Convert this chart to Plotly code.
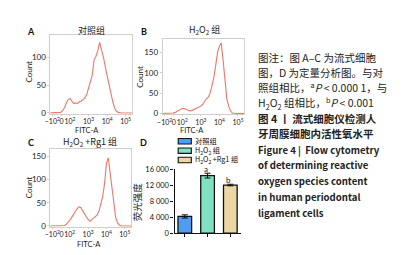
import plotly.graph_objects as go

W, H = 401, 255

# ---------------- data ----------------
# FITC-A bin positions (display units of the biexponential axis: 10^2 -> 2, 10^3 -> 3 ...)
fitc_bins = [0.9, 1.0, 1.1, 1.2, 1.3, 1.4, 1.5, 1.6, 1.7, 1.8, 1.9,
             2.0, 2.1, 2.2, 2.3, 2.4, 2.5, 2.6, 2.7, 2.8, 2.9,
             3.0, 3.1, 3.2, 3.3, 3.4, 3.5, 3.6, 3.7, 3.8, 3.9,
             4.0, 4.1, 4.2, 4.3, 4.4, 4.5, 4.6, 4.7, 4.8, 4.9,
             5.0, 5.1, 5.2, 5.3, 5.4]

count_control = [0, 0, 0, 0, 0, 0, 1, 4, 9, 17, 24,
                 26, 21, 17, 18, 17, 20, 21, 24, 27, 33,
                 44, 58, 68, 96, 102, 112, 127, 113, 101, 83,
                 66, 51, 35, 21, 9, 3, 1, 0, 0, 0,
                 0, 0, 0, 0, 0]

count_h2o2 = [0, 0, 0, 0, 0, 0, 1, 2, 4, 7, 10,
              12, 12, 10, 7, 6, 7, 9, 11, 12, 15,
              18, 22, 30, 36, 40, 50, 68, 88, 118, 150,
              165, 173, 130, 80, 36, 18, 6, 1, 0, 0,
              0, 0, 0, 0, 0]

count_rg1 = [0, 0, 0, 0, 0, 0, 0, 0, 1, 3, 7,
             12, 18, 25, 31, 37, 41, 40, 33, 26, 19,
             14, 10, 13, 16, 20, 24, 33, 46, 64, 92,
             135, 147, 115, 70, 40, 19, 7, 2, 0, 0,
             0, 0, 0, 0, 0]

fitc_tickvals = [1.05, 1.55, 2, 3, 4, 5]
fitc_ticktext = ["−10<sup>2</sup>", "0", "10<sup>2</sup>", "10<sup>3</sup>",
                 "10<sup>4</sup>", "10<sup>5</sup>"]

groups = ["对照组", "H<sub>2</sub>O<sub>2</sub> 组", "H<sub>2</sub>O<sub>2</sub> +Rg1 组"]
intensity = [4200, 14400, 12050]
intensity_err = [400, 600, 200]
sig_labels = ["", "a", "b"]
bar_colors = ["#4f9df2", "#80e2c3", "#ead7a5"]
intensity_ticks = [0, 4000, 8000, 12000, 16000]
intensity_ticktext = ["0", "4 000", "8 000", "12 000", "16 000"]

caption_lines = [
    "图注：图 A–C 为流式细胞",
    "图，D 为定量分析图。与对",
    "照组相比，<sup>a</sup><i>P</i> &lt; 0.000 1，与",
    "H<sub>2</sub>O<sub>2</sub> 组相比，<sup>b</sup><i>P</i> &lt; 0.001",
    "<b>图 4 丨 流式细胞仪检测人</b>",
    "<b>牙周膜细胞内活性氧水平</b>",
    "<b>Figure 4 |  Flow cytometry</b>",
    "<b>of determining reactive</b>",
    "<b>oxygen species content</b>",
    "<b>in human periodontal</b>",
    "<b>ligament cells</b>",
]
caption_y = [47, 62.5, 78, 94, 110, 126, 143, 159, 175, 191.5, 208]
caption_size = [10.5, 10.5, 10.5, 10.5, 10.5, 10.5, 9.6, 9.6, 9.6, 9.6, 9.6]

FONT = "Lato, 'Noto Sans CJK SC', sans-serif"
CJK = "'Noto Sans CJK SC', Lato, sans-serif"
LINE = "#f07565"
FRAME = "#cfcfcf"


def px(x):
    return x / W


def py(y):
    return 1 - y / H


fig = go.Figure()

hist_panels = [
    ("x", "y", count_control),
    ("x2", "y2", count_h2o2),
    ("x3", "y3", count_rg1),
]
for xa, ya, counts in hist_panels:
    fig.add_trace(go.Scatter(x=fitc_bins, y=counts, mode="lines", xaxis=xa, yaxis=ya,
                             line=dict(color=LINE, width=1.1), showlegend=False,
                             hoverinfo="skip"))

fig.add_trace(go.Bar(x=[0, 1, 2], y=intensity, xaxis="x4", yaxis="y4",
                     marker=dict(color=bar_colors, line=dict(color="#111", width=1.3)),
                     width=0.6, showlegend=False,
                     error_y=dict(type="data", array=intensity_err, color="#111",
                                  thickness=1, width=3),
                     hoverinfo="skip"))

hist_x = dict(range=[0.95, 5.35], tickmode="array", tickvals=fitc_tickvals,
              ticktext=fitc_ticktext, showticklabels=True,
              showgrid=False, zeroline=False, showline=True, mirror=True,
              linecolor=FRAME, linewidth=1, ticks="outside", ticklen=1, tickcolor=FRAME,
              tickangle=0, ticklabeloverflow="allow",
              tickfont=dict(size=7, color="#222"))
hist_y = dict(showgrid=False, zeroline=False, showline=True, mirror=True,
              linecolor=FRAME, linewidth=1, ticks="outside", ticklen=2, tickcolor=FRAME,
              tickfont=dict(size=8, color="#222"))

fig.update_layout(
    width=W, height=H, margin=dict(l=0, r=0, t=0, b=0),
    paper_bgcolor="white", plot_bgcolor="white",
    font=dict(family=FONT, color="#222"),
    xaxis=dict(hist_x, domain=[px(37), px(120)], anchor="y"),
    yaxis=dict(hist_y, domain=[py(105.5), py(24)], range=[-1.5, 140],
               tickvals=[0, 50, 100], anchor="x"),
    xaxis2=dict(hist_x, domain=[px(151), px(234)], anchor="y2"),
    yaxis2=dict(hist_y, domain=[py(106), py(28)], range=[-2, 183],
                tickvals=[0, 50, 100, 150], anchor="x2"),
    xaxis3=dict(hist_x, domain=[px(37), px(119)], anchor="y3"),
    yaxis3=dict(hist_y, domain=[py(222.5), py(142)], range=[-1.5, 166],
                tickvals=[0, 50, 100, 150], anchor="x3"),
    xaxis4=dict(domain=[px(163), px(230)], anchor="y4", range=[-0.45, 2.45],
                tickvals=[0, 1, 2], ticktext=["", "", ""], ticks="outside", ticklen=3,
                tickcolor="#111", showline=True, linecolor="#111", linewidth=1.2,
                showgrid=False, zeroline=False),
    yaxis4=dict(domain=[py(229.3), py(163)], anchor="x4", range=[0, 16000],
                tickvals=intensity_ticks, ticktext=intensity_ticktext,
                ticks="outside", ticklen=3, tickcolor="#111", showline=True,
                linecolor="#111", linewidth=1.2, showgrid=False, zeroline=False,
                tickfont=dict(size=7.5, color="#111")),
)

ann = []


def add_text(x, y, text, size, anchor="center", angle=0, family=FONT, color="#222"):
    ann.append(dict(x=px(x), y=py(y), xref="paper", yref="paper", text=text,
                    showarrow=False, xanchor=anchor, yanchor="middle",
                    font=dict(size=size, family=family, color=color), textangle=angle))


# panel letters
for letter, lx, ly in [("A", 17, 20), ("B", 131.5, 20.5), ("C", 17, 135), ("D", 131.5, 135)]:
    add_text(lx, ly, "<b>" + letter + "</b>", 9, color="#111")

# panel titles
add_text(78.5, 19, "对照组", 9, family=CJK)
add_text(193, 19, "H<sub>2</sub>O<sub>2</sub> 组", 9, family=CJK)
add_text(77, 135, "H<sub>2</sub>O<sub>2</sub> +Rg1 组", 9, family=CJK)

# axis titles
for cx, cy in [(15, 62), (128, 67), (15, 182)]:
    add_text(cx, cy, "Count", 8, angle=-90)
for cx, cy in [(74, 122.5), (181, 122.5), (76, 240.5)]:
    add_text(cx, cy, "FITC-A", 7.5)
add_text(125, 197, "荧光强度", 9.5, angle=-90, family=CJK)

# significance letters above bars (data-driven positions)
for i, lab in enumerate(sig_labels):
    if lab:
        ann.append(dict(x=i, y=intensity[i] + intensity_err[i], xref="x4", yref="y4",
                        text=lab, showarrow=False, yanchor="bottom", xshift=-2, yshift=-2,
                        borderpad=0, font=dict(size=8, family=FONT, color="#222")))

# legend (manual, compact)
shapes = []
for i, (g, c) in enumerate(zip(groups, bar_colors)):
    yc = 134.0 + 9.7 * i
    shapes.append(dict(type="rect", xref="paper", yref="paper",
                       x0=px(166.7), x1=px(180), y0=py(yc + 2.8), y1=py(yc - 2.8),
                       fillcolor=c, line=dict(color="#111", width=1.1)))
    add_text(181.5, yc, g, 7.2, anchor="left", family=CJK, color="#111")

# caption
for line, yy, sz in zip(caption_lines, caption_y, caption_size):
    add_text(246, yy, line, sz, anchor="left", family=CJK, color="#222")

fig.update_layout(annotations=ann, shapes=shapes)
fig.write_html("out.html")
